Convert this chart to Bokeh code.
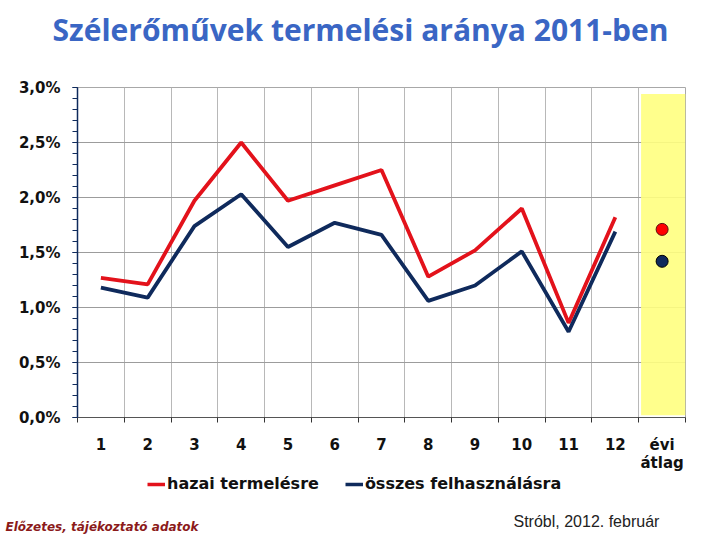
from bokeh.plotting import figure
from bokeh.layouts import column
from bokeh.models import FixedTicker, Label, Legend, LegendItem, Range1d
from bokeh.embed import file_html
from bokeh.resources import INLINE

categories = ["1", "2", "3", "4", "5", "6", "7", "8", "9", "10", "11", "12", "évi\nátlag"]
hazai = [1.27, 1.21, 1.97, 2.50, 1.97, 2.11, 2.25, 1.28, 1.52, 1.90, 0.86, 1.82]
osszes = [1.18, 1.09, 1.74, 2.03, 1.55, 1.77, 1.66, 1.06, 1.20, 1.51, 0.78, 1.69]
hazai_avg = [1.71]
osszes_avg = [1.42]
y_ticks = [0.0, 0.5, 1.0, 1.5, 2.0, 2.5, 3.0]
y_tick_labels = ["0,0%", "0,5%", "1,0%", "1,5%", "2,0%", "2,5%", "3,0%"]
title_text = "Szélerőművek termelési aránya 2011-ben"
legend_labels = ["hazai termelésre", "összes felhasználásra"]
note_left = "Előzetes, tájékoztató adatok"
note_right = "Stróbl, 2012. február"

RED = "#e3121b"
NAVY = "#0f2a5c"

n = len(categories)
xpos = list(range(1, n + 1))
month_x = xpos[:len(hazai)]
avg_x = [xpos[-1]]

TOP_H = 58
MAIN_TOP = 29
FRAME_H = 330
MAIN_BOTTOM = 57
MAIN_H = MAIN_TOP + FRAME_H + MAIN_BOTTOM
BOT_H = 540 - TOP_H - MAIN_H
BOT_Y0 = TOP_H + MAIN_H


def strip(h):
    f = figure(width=720, height=h, output_backend="svg", toolbar_location=None,
               x_range=Range1d(0, 720), y_range=Range1d(h, 0),
               x_axis_location=None, y_axis_location=None,
               min_border_left=0, min_border_right=0, min_border_top=0, min_border_bottom=0)
    f.outline_line_color = None
    f.grid.visible = False
    f.background_fill_color = "white"
    f.border_fill_color = "white"
    return f


# title strip
t = strip(TOP_H)
t.add_layout(Label(x=360, y=29, text=title_text, text_align="center", text_baseline="middle",
                   text_font="Open Sans", text_font_style="bold", text_font_size="30px",
                   text_color="#3a66c4"))

# main chart
p = figure(width=720, height=MAIN_H, output_backend="svg", toolbar_location=None,
           x_range=Range1d(0.5, n + 0.5), y_range=Range1d(0, 3.0),
           min_border_left=77, min_border_right=35, min_border_top=MAIN_TOP,
           min_border_bottom=MAIN_BOTTOM)
p.background_fill_color = "white"
p.border_fill_color = "white"
p.outline_line_color = "#a8a8a8"

# yellow band for the annual average
p.quad(left=n - 0.45, right=n + 0.5, bottom=0.02, top=2.94, fill_color="#ffff80",
       fill_alpha=0.9, line_color=None)

yax = p.yaxis[0]
yax.ticker = FixedTicker(ticks=y_ticks, minor_ticks=[i / 10 for i in range(31)])
yax.major_label_overrides = {tk: lb for tk, lb in zip(y_ticks, y_tick_labels)}
yax.axis_line_color = NAVY
yax.axis_line_width = 1.5
yax.major_tick_line_color = NAVY
yax.minor_tick_line_color = NAVY
yax.major_tick_in = 0
yax.major_tick_out = 5
yax.minor_tick_in = 0
yax.minor_tick_out = 5
yax.major_label_standoff = 12
yax.major_label_text_font = "DejaVu Sans"
yax.major_label_text_font_style = "bold"
yax.major_label_text_font_size = "15px"
yax.major_label_text_color = "#111111"

xax = p.xaxis[0]
xax.ticker = FixedTicker(ticks=xpos, minor_ticks=[x + 0.5 for x in range(0, n + 1)])
xax.major_label_overrides = {x: c for x, c in zip(xpos, categories)}
xax.axis_line_color = "#555555"
xax.major_tick_line_color = None
xax.minor_tick_line_color = "#333333"
xax.minor_tick_in = 0
xax.minor_tick_out = 5
xax.major_label_standoff = 12
xax.major_label_text_font = "DejaVu Sans"
xax.major_label_text_font_style = "bold"
xax.major_label_text_font_size = "15px"
xax.major_label_text_line_height = 1.0
xax.major_label_text_color = "#111111"

p.ygrid.ticker = FixedTicker(ticks=y_ticks)
p.ygrid.grid_line_color = "#9c9c9c"
p.xgrid.ticker = FixedTicker(ticks=[x + 0.5 for x in range(1, n)])
p.xgrid.grid_line_color = "#b8b8b8"

p.line(month_x, hazai, line_color=RED, line_width=3.8)
p.line(month_x, osszes, line_color=NAVY, line_width=3.8)
p.scatter(avg_x, hazai_avg, size=12, fill_color="#ff0000", line_color="#5a1010", line_width=1)
p.scatter(avg_x, osszes_avg, size=12, fill_color=NAVY, line_color="#000000", line_width=1)

# bottom strip: legend and notes
b = strip(BOT_H)
nan = float("nan")
l1 = b.line(x=[nan, nan], y=[nan, nan], line_color=RED, line_width=3.5)
l2 = b.line(x=[nan, nan], y=[nan, nan], line_color=NAVY, line_width=3.5)
legend = Legend(items=[LegendItem(label=legend_labels[0], renderers=[l1]),
                       LegendItem(label=legend_labels[1], renderers=[l2])],
                orientation="horizontal", location=(147, BOT_H - (484 - BOT_Y0) - 9),
                label_text_font="DejaVu Sans", label_text_font_style="bold",
                label_text_font_size="16px", label_text_color="#111111",
                label_text_line_height=1.0, label_height=16,
                glyph_width=18, glyph_height=16, label_standoff=2, spacing=26,
                padding=0, margin=0, border_line_color=None, background_fill_alpha=0)
b.add_layout(legend, "center")

b.add_layout(Label(x=5, y=526 - BOT_Y0, text=note_left, text_align="left",
                   text_baseline="middle", text_font="DejaVu Sans",
                   text_font_style="bold italic", text_font_size="12px", text_color="#8b1a1a"))
b.add_layout(Label(x=513, y=521 - BOT_Y0, text=note_right, text_align="left",
                   text_baseline="middle", text_font="Liberation Sans",
                   text_font_size="16px", text_color="#222222"))

for fig in (t, p, b):
    if "frame_align" in fig.properties():
        fig.frame_align = False

layout = column(t, p, b, spacing=0)
open("out.html", "w").write(file_html(layout, INLINE))
